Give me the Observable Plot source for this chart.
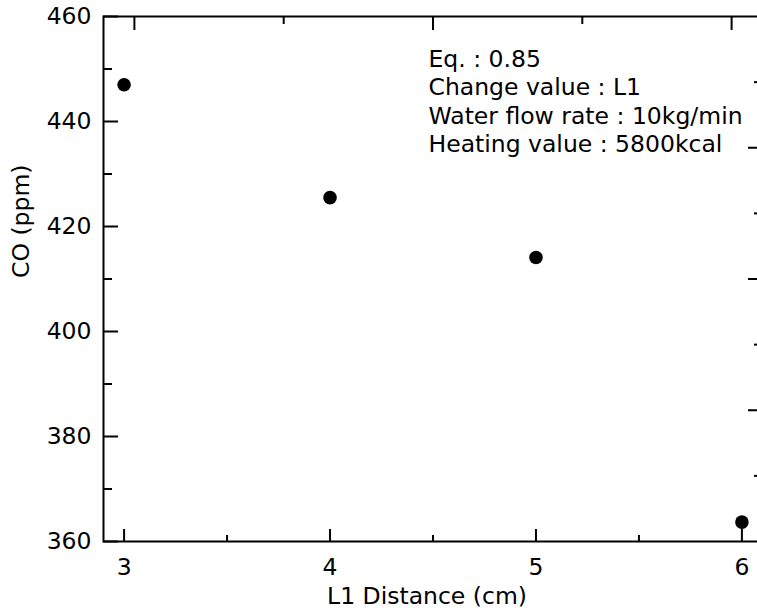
<!DOCTYPE html>
<html>
<head>
<meta charset="utf-8">
<script src="https://cdn.jsdelivr.net/npm/d3@7"></script>
<script src="https://cdn.jsdelivr.net/npm/@observablehq/plot@0.6"></script>
<style>
  html, body { margin: 0; padding: 0; background: #fff; overflow: hidden; }
</style>
</head>
<body>
<div id="chart"></div>
<script>
// Data
const distances = [3, 4, 5, 6];          // L1 Distance (cm)
const coValues = [447.0, 425.5, 414.1, 363.7]; // CO (ppm)

// Tick labels / tick positions
const xTicks = [3, 4, 5, 6];
const xMinorTicks = [3.5, 4.5, 5.5];
const yTicks = [360, 380, 400, 420, 440, 460];
const yMinorTicks = [370, 390, 410, 430, 450];
const topLongTicks = [3.05, 4.5, 5.95];
const topShortTicks = [3.775, 5.225];
const rightLongTicks = [385, 410, 435];
const rightShortTicks = [372.5, 397.5, 422.5, 447.5];

const notes = [
  "Eq. : 0.85",
  "Change value : L1",
  "Water flow rate : 10kg/min",
  "Heating value : 5800kcal"
];
const xLabel = "L1 Distance (cm)";
const yLabel = "CO (ppm)";

const points = distances.map((d, i) => ({x: d, y: coValues[i]}));

const W = 757, H = 613;
const mL = 103, mR = -5, mT = 16, mB = 72;
const plotH = H - mT - mB;
const plotW = W - mL - mR;
const fs = "23.5px";

const chart = Plot.plot({
  width: W,
  height: H,
  marginLeft: mL,
  marginRight: mR,
  marginTop: mT,
  marginBottom: mB,
  style: {fontFamily: "'DejaVu Sans', sans-serif", background: "#fff", color: "#000"},
  x: {domain: [2.9, 6.1]},
  y: {domain: [360, 460]},
  marks: [
    Plot.frame({stroke: "#000", strokeWidth: 2}),
    // bottom ticks (inward)
    Plot.tickX(xTicks, {x: d => d, stroke: "#000", strokeWidth: 2, insetTop: plotH - 12}),
    Plot.tickX(xMinorTicks, {x: d => d, stroke: "#000", strokeWidth: 2, insetTop: plotH - 6}),
    // top ticks (inward)
    Plot.tickX(topLongTicks, {x: d => d, stroke: "#000", strokeWidth: 2, insetBottom: plotH - 14}),
    Plot.tickX(topShortTicks, {x: d => d, stroke: "#000", strokeWidth: 2, insetBottom: plotH - 8}),
    // left ticks (inward)
    Plot.tickY(yTicks, {y: d => d, stroke: "#000", strokeWidth: 2, insetRight: plotW - 15}),
    Plot.tickY(yMinorTicks, {y: d => d, stroke: "#000", strokeWidth: 2, insetRight: plotW - 9}),
    // right ticks (inward)
    Plot.tickY(rightLongTicks, {y: d => d, stroke: "#000", strokeWidth: 2, insetLeft: plotW - 14}),
    Plot.tickY(rightShortTicks, {y: d => d, stroke: "#000", strokeWidth: 2, insetLeft: plotW - 8}),
    // axis labels
    Plot.axisX({ticks: xTicks, tickSize: 0, tickPadding: 17, label: null, fontSize: fs, tickFormat: d => String(d)}),
    Plot.axisY({ticks: yTicks, tickSize: 0, tickPadding: 12, label: null, fontSize: fs, tickFormat: d => String(d)}),
    Plot.text([xLabel], {frameAnchor: "bottom", lineAnchor: "bottom", dx: -6, dy: 62, fontSize: fs, fill: "#000"}),
    Plot.text([yLabel], {frameAnchor: "left", lineAnchor: "bottom", rotate: -90, dx: -75, dy: -1, fontSize: fs, fill: "#000"}),
    // annotation
    Plot.text([notes.join("\n")], {frameAnchor: "top-left", textAnchor: "start", lineAnchor: "top", lineHeight: 1.213, dx: 325, dy: 30, fontSize: fs, fill: "#000"}),
    // data
    Plot.dot(points, {x: "x", y: "y", r: 6.8, fill: "#000", stroke: null})
  ]
});
document.getElementById("chart").appendChild(chart);
</script>
</body>
</html>
